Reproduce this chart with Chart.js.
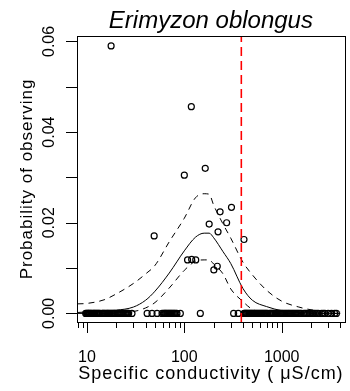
<!DOCTYPE html>
<html>
<head>
<meta charset="utf-8">
<script src="https://cdn.jsdelivr.net/npm/chart.js@4"></script>
<style>
  html, body { margin: 0; padding: 0; background: #fff; }
</style>
</head>
<body>
<canvas id="chart" width="350" height="391"></canvas>
<script>
// axis limits and ticks
const xMin = 7.9, xMax = 4450;
const yMin = -0.0019, yMax = 0.0612;
const xMajorTicks = [10, 100, 1000];
const xMinorTicks = [8, 9, 20, 30, 40, 50, 60, 70, 80, 90, 200, 300, 400, 500, 600, 700, 800, 900, 2000, 3000, 4000];
const yTicks = [0, 0.01, 0.02, 0.03, 0.04, 0.05, 0.06];
const yLabelTicks = [0, 0.02, 0.04, 0.06];
const threshold = 385;

// fitted curve (mean and bounds)
const curveX = [8, 10, 15, 20, 30, 40, 50, 70, 100, 130, 160, 180, 200, 250, 300, 400, 500, 700, 1000, 1500, 2000, 3000, 4000];
const curveMean = [0.0002, 0.0003, 0.0005, 0.0007, 0.0014, 0.0029, 0.0049, 0.0089, 0.0138, 0.0168, 0.0177, 0.0177, 0.0167, 0.0136, 0.0110, 0.0055, 0.0029, 0.0015, 0.0006, 0.0002, 0.0001, 0.0000, 0.0000];
const curveUpper = [0.0021, 0.0022, 0.0030, 0.0043, 0.0066, 0.0087, 0.0106, 0.0158, 0.0210, 0.0255, 0.0264, 0.0263, 0.0239, 0.0197, 0.0166, 0.0113, 0.0085, 0.0051, 0.0027, 0.0014, 0.0008, 0.0004, 0.0003];
const curveLower = [0.0000, 0.0000, 0.0000, 0.0001, 0.0004, 0.0012, 0.0024, 0.0056, 0.0095, 0.0115, 0.0118, 0.0118, 0.0109, 0.0087, 0.0054, 0.0026, 0.0009, 0.0002, 0.0000, 0.0000, 0.0000, 0.0000, 0.0000];

// observations
const zeroObsX = [9.7, 9.9, 10.1, 10.3, 10.4, 10.6, 10.8, 11.0, 11.2, 11.5, 11.7, 11.9, 12.1, 12.4, 12.6, 12.9, 13.1, 13.4, 13.7, 14.3, 14.6, 14.9, 15.2, 15.6, 16.0, 16.3, 16.6, 17.0, 17.4, 17.8, 18.2, 18.6, 19.0, 19.5, 20.4, 20.9, 21.4, 21.9, 22.4, 22.9, 23.5, 24.0, 24.6, 25.1, 25.7, 26.2, 26.8, 29, 41.5, 46.6, 52.5, 59, 61, 62.2, 63.5, 64.7, 66, 67.5, 69, 70.5, 72, 73.5, 75, 76.7, 78.5, 80, 82, 84, 91, 146,
  321, 358, 410, 418, 425, 432, 440, 449, 458, 467, 476, 485, 495, 505, 515, 527, 540, 552, 565, 578, 592, 606, 620, 635, 650, 666, 682, 698, 715, 750, 770, 790, 810, 830, 852, 875, 897, 920, 945, 970, 995, 1020, 1050, 1080, 1110, 1140, 1170, 1200, 1235, 1270, 1305, 1340, 1380, 1420, 1460, 1500, 1545, 1590, 1690, 1745, 1800, 1860, 1920, 1985, 2050, 2125, 2200, 2290, 2380, 2570, 2680, 2780, 3000, 3250, 3500, 3650];
const obsX = [17.7, 49, 100, 118, 108, 119, 131, 164, 180, 201, 218, 222, 233, 272, 305, 410];
const obsY = [0.0590, 0.0171, 0.0305, 0.0456, 0.0118, 0.0119, 0.0118, 0.0320, 0.0197, 0.0096, 0.0104, 0.0180, 0.0224, 0.0200, 0.0234, 0.0163];

const FONT = '"Liberation Sans", Arial, sans-serif';

const points = zeroObsX.map(x => ({ x: x, y: 0 }))
  .concat(obsX.map((x, i) => ({ x: x, y: obsY[i] })));

function curve(ys) {
  return curveX.map((x, i) => ({ x: x, y: ys[i] }));
}

// R-style frame, ticks and labels
const rAxes = {
  id: 'rAxes',
  afterDraw(chart) {
    const ctx = chart.ctx;
    const a = chart.chartArea;
    const xs = chart.scales.x, ys = chart.scales.y;
    ctx.save();
    ctx.strokeStyle = '#000';
    ctx.lineWidth = 1;
    ctx.strokeRect(Math.round(a.left) + 0.5, Math.round(a.top) + 0.5, Math.round(a.right - a.left), Math.round(a.bottom - a.top));

    ctx.beginPath();
    xMinorTicks.forEach(v => {
      const px = Math.round(xs.getPixelForValue(v)) + 0.5;
      ctx.moveTo(px, a.bottom); ctx.lineTo(px, a.bottom + 6);
    });
    xMajorTicks.forEach(v => {
      const px = Math.round(xs.getPixelForValue(v)) + 0.5;
      ctx.moveTo(px, a.bottom); ctx.lineTo(px, a.bottom + 11);
    });
    yTicks.forEach(v => {
      const py = Math.round(ys.getPixelForValue(v)) + 0.5;
      ctx.moveTo(a.left, py); ctx.lineTo(a.left - 11, py);
    });
    ctx.stroke();

    ctx.fillStyle = '#000';
    ctx.font = '16px ' + FONT;
    ctx.textAlign = 'center';
    ctx.textBaseline = 'alphabetic';
    xMajorTicks.forEach(v => {
      ctx.fillText(String(v), xs.getPixelForValue(v), 362);
    });
    yLabelTicks.forEach(v => {
      ctx.save();
      ctx.translate(53.5, ys.getPixelForValue(v));
      ctx.rotate(-Math.PI / 2);
      ctx.fillText(v.toFixed(2), 0, 0);
      ctx.restore();
    });

    const cx = (a.left + a.right) / 2;
    const cy = (a.top + a.bottom) / 2;
    ctx.font = 'italic 24px ' + FONT;
    ctx.fillText('Erimyzon oblongus', cx, 28);

    ctx.letterSpacing = '1px';
    ctx.font = '18px ' + FONT;
    ctx.fillText('Specific conductivity ( \u03BCS/cm)', cx, 379);

    ctx.font = '17px ' + FONT;
    ctx.save();
    ctx.translate(32, cy);
    ctx.rotate(-Math.PI / 2);
    ctx.fillText('Probability of observing', 0, 0);
    ctx.restore();
    ctx.restore();
  }
};

new Chart(document.getElementById('chart'), {
  type: 'scatter',
  data: {
    datasets: [
      {
        type: 'line',
        data: [{ x: threshold, y: yMin }, { x: threshold, y: yMax }],
        borderColor: '#ff0000',
        borderWidth: 1.6,
        borderDash: [9, 5],
        pointRadius: 0
      },
      {
        type: 'line',
        data: curve(curveUpper),
        borderColor: '#000',
        borderWidth: 1,
        borderDash: [6, 5],
        pointRadius: 0,
        cubicInterpolationMode: 'monotone'
      },
      {
        type: 'line',
        data: curve(curveLower),
        borderColor: '#000',
        borderWidth: 1,
        borderDash: [6, 5],
        pointRadius: 0,
        cubicInterpolationMode: 'monotone'
      },
      {
        type: 'line',
        data: curve(curveMean),
        borderColor: '#000',
        borderWidth: 1,
        pointRadius: 0,
        cubicInterpolationMode: 'monotone'
      },
      {
        data: points,
        pointStyle: 'circle',
        pointRadius: 3,
        borderWidth: 1.2,
        borderColor: '#000',
        backgroundColor: 'rgba(0,0,0,0)'
      }
    ]
  },
  options: {
    responsive: false,
    animation: false,
    devicePixelRatio: 1,
    layout: { padding: { top: 36, right: 4, left: 0, bottom: 0 } },
    plugins: {
      legend: { display: false },
      tooltip: { enabled: false }
    },
    scales: {
      x: {
        type: 'logarithmic',
        min: xMin,
        max: xMax,
        ticks: { display: false },
        grid: { display: false },
        border: { display: false },
        afterFit: function(scale) { scale.height = 69; }
      },
      y: {
        type: 'linear',
        min: yMin,
        max: yMax,
        ticks: { display: false },
        grid: { display: false },
        border: { display: false },
        afterFit: function(scale) { scale.width = 77; }
      }
    }
  },
  plugins: [rAxes]
});
</script>
</body>
</html>
